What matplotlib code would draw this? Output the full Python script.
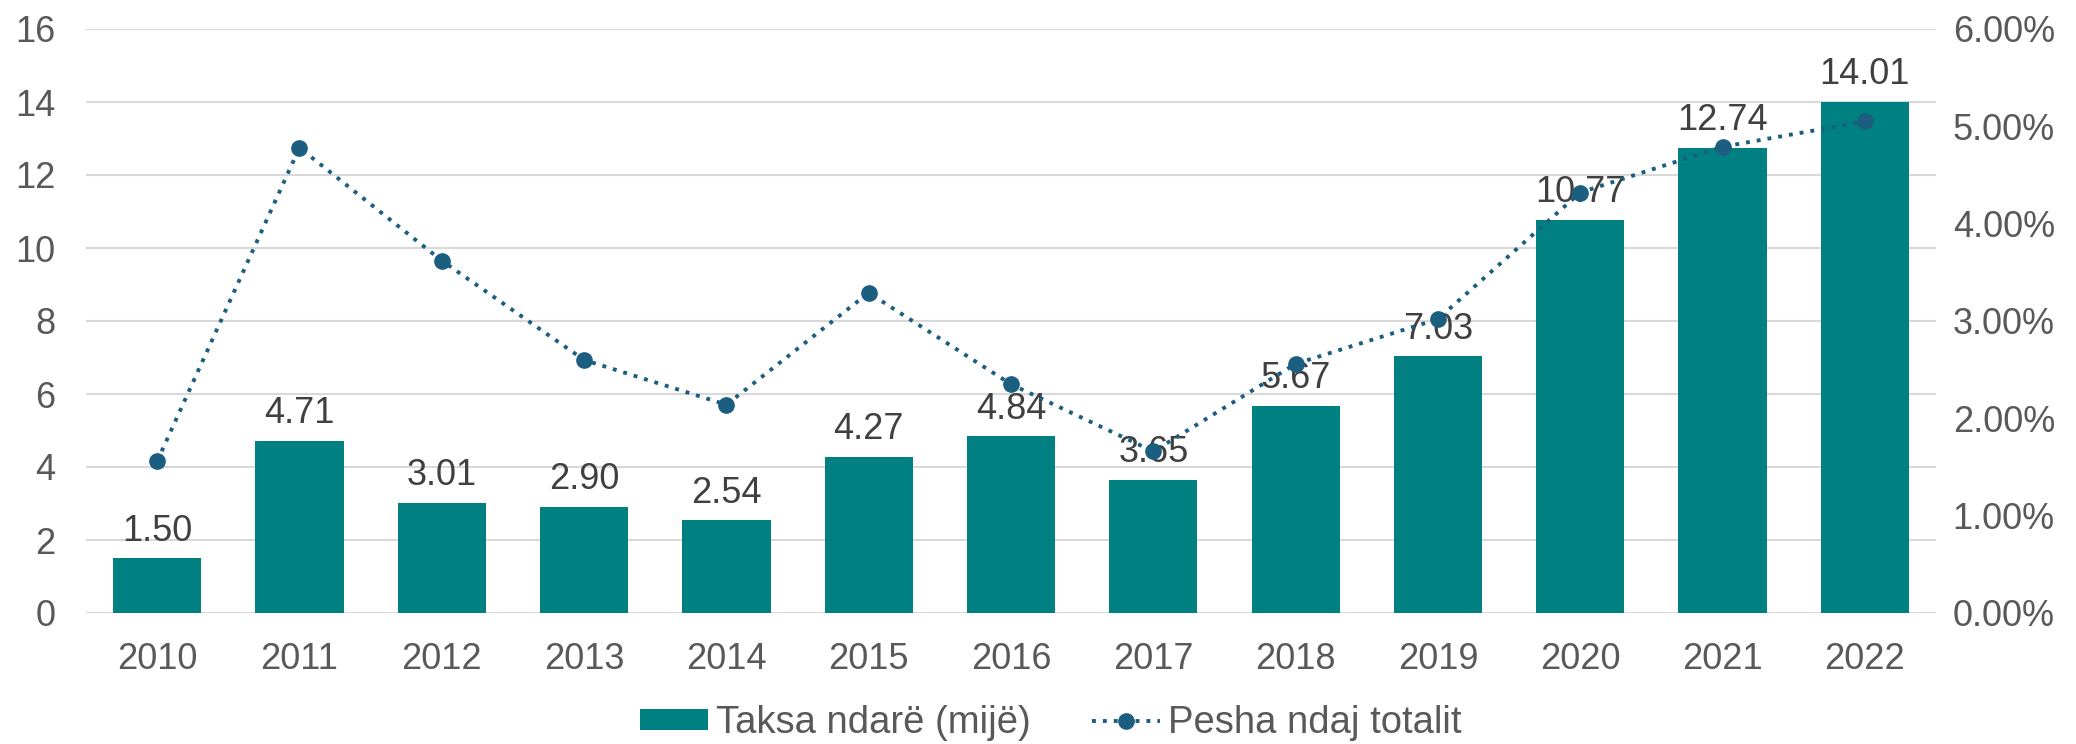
import numpy as np
import matplotlib.pyplot as plt
from matplotlib.ticker import FuncFormatter

years = ['2010', '2011', '2012', '2013', '2014', '2015', '2016',
         '2017', '2018', '2019', '2020', '2021', '2022']
taksa = [1.50, 4.71, 3.01, 2.90, 2.54, 4.27, 4.84, 3.65, 5.67, 7.03, 10.77, 12.74, 14.01]
pesha = [1.56, 4.78, 3.62, 2.60, 2.14, 3.29, 2.35, 1.66, 2.56, 3.02, 4.32, 4.79, 5.05]

bar_col = '#008080'
line_col = '#1B5E80'
txt_col = '#595959'
fs = 26

plt.rcParams['font.family'] = ['Liberation Sans', 'DejaVu Sans']

fig = plt.figure(figsize=(20.76, 7.44), dpi=100)
ax = fig.add_axes([86/2076, 1 - 613/744, (1936-86)/2076, (613-29)/744])
ax2 = ax.twinx()

x = np.arange(len(years))
ax.bar(x, taksa, width=0.62, color=bar_col, zorder=2, label='Taksa ndarë (mijë)')
for xi, v in zip(x, taksa):
    ax.annotate(f'{v:.2f}', (xi, v), xytext=(0, 7), textcoords='offset points',
                ha='center', va='bottom', fontsize=fs, color='#404040')

ax2.plot(x, pesha, linestyle=(0, (1, 1.8)), linewidth=2.8, color=line_col,
         marker='o', markersize=11, zorder=3, label='Pesha ndaj totalit')

ax.set_ylim(0, 16)
ax.set_yticks(range(0, 17, 2))
ax2.set_ylim(0, 6)
ax2.set_yticks(range(0, 7))
ax2.yaxis.set_major_formatter(FuncFormatter(lambda v, p: f'{v:.2f}%'))
ax.set_xlim(-0.5, len(years) - 0.5)
ax.set_xticks(x)
ax.set_xticklabels(years)

ax.grid(axis='y', color='#D9D9D9', linewidth=1.5, zorder=0)
ax.set_axisbelow(True)
for a in (ax, ax2):
    for s in a.spines.values():
        s.set_visible(False)
    a.tick_params(length=0, labelsize=fs, labelcolor=txt_col)
ax.tick_params(axis='x', pad=21)
ax.tick_params(axis='y', pad=22)
ax2.tick_params(axis='y', pad=12)

h1, l1 = ax.get_legend_handles_labels()
h2, l2 = ax2.get_legend_handles_labels()
fig.legend(h1 + h2, l1 + l2, loc='center', bbox_to_anchor=(1051/2076, 1 - 723/744), ncol=2,
           frameon=False, fontsize=27.5, labelcolor=txt_col, handlelength=1.78,
           handleheight=0.5, handletextpad=0.21, columnspacing=1.6)

fig.savefig('out.png', dpi=100)
